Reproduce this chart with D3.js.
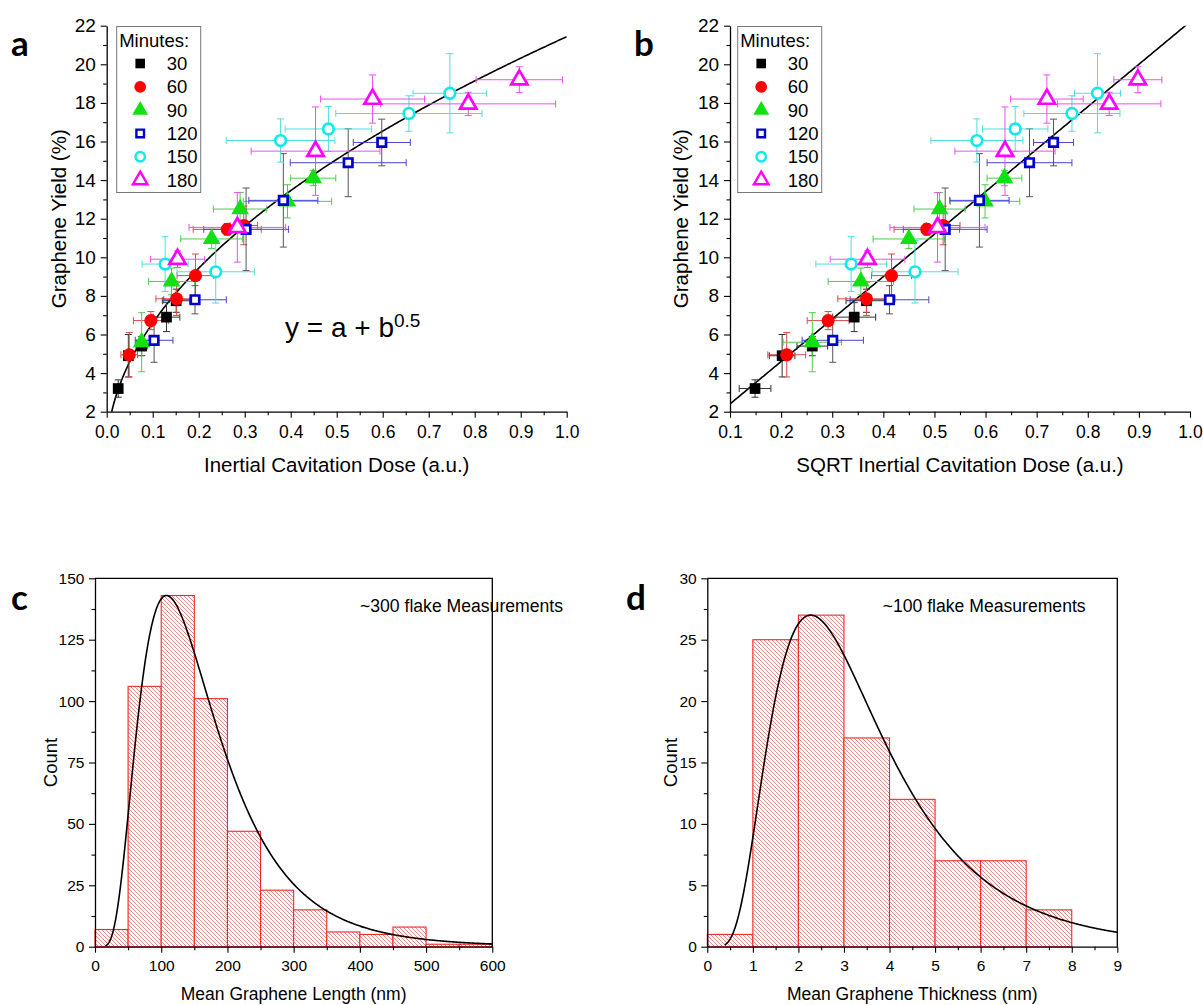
<!DOCTYPE html>
<html>
<head>
<meta charset="utf-8">
<script src="https://cdn.jsdelivr.net/npm/d3@7"></script>
<style>
  body { margin: 0; background: #fff; }
  text { font-family: "Liberation Sans", Arial, sans-serif; fill: #000; }
  .panelLabel { font-family: Lato, "Open Sans", sans-serif; font-weight: bold; }
</style>
</head>
<body>
<script>
'use strict';

// ---- data ----
const minutes = ['30', '60', '90', '120', '150', '180'];

// panel a: inertial cavitation dose, panel b: sqrt of it
const dose30 = [0.025, 0.047, 0.076, 0.130, 0.151];
const dose60 = [0.049, 0.096, 0.152, 0.193, 0.262, 0.298];
const dose90 = [0.076, 0.141, 0.228, 0.290, 0.393, 0.449];
const dose120 = [0.103, 0.192, 0.303, 0.384, 0.525, 0.598];
const dose150 = [0.127, 0.237, 0.378, 0.482, 0.657, 0.746];
const dose180 = [0.154, 0.284, 0.454, 0.578, 0.786, 0.897];

const doseErr30 = [0.006, 0.010, 0.012, 0.029, 0.030];
const doseErr60 = [0.018, 0.038, 0.045, 0.040, 0.074, 0.030];
const doseErr90 = [0.012, 0.050, 0.067, 0.058, 0.096, 0.049];
const doseErr120 = [0.041, 0.068, 0.092, 0.075, 0.126, 0.062];
const doseErr150 = [0.050, 0.084, 0.118, 0.094, 0.159, 0.080];
const doseErr180 = [0.059, 0.105, 0.140, 0.113, 0.190, 0.094];

const sqrtDose30 = [0.149, 0.202, 0.261, 0.343, 0.367];
const sqrtDose60 = [0.211, 0.292, 0.367, 0.416, 0.485, 0.517];
const sqrtDose90 = [0.261, 0.356, 0.450, 0.510, 0.599, 0.637];
const sqrtDose120 = [0.301, 0.412, 0.521, 0.588, 0.686, 0.733];
const sqrtDose150 = [0.337, 0.462, 0.583, 0.658, 0.769, 0.819];
const sqrtDose180 = [0.369, 0.506, 0.638, 0.720, 0.842, 0.898];

const sqrtErr30 = [0.031, 0.025, 0.030, 0.042, 0.040];
const sqrtErr60 = [0.037, 0.041, 0.056, 0.039, 0.064, 0.033];
const sqrtErr90 = [0.057, 0.064, 0.070, 0.050, 0.068, 0.034];
const sqrtErr120 = [0.060, 0.077, 0.082, 0.058, 0.083, 0.039];
const sqrtErr150 = [0.069, 0.084, 0.090, 0.064, 0.094, 0.045];
const sqrtErr180 = [0.073, 0.093, 0.098, 0.071, 0.101, 0.047];

const yield30 = [3.2, 4.9, 5.4, 6.9, 7.75];
const yield60 = [4.95, 6.72, 7.85, 9.05, 11.45, 11.65];
const yield90 = [5.6, 8.75, 10.95, 12.5, 12.9, 14.1];
const yield120 = [5.7, 7.8, 11.45, 12.95, 14.9, 15.95];
const yield150 = [9.65, 9.25, 16.05, 16.65, 17.45, 18.5];
const yield180 = [9.9, 11.55, 15.5, 18.2, 17.95, 19.2];

const yieldErr30 = [0.45, 1.1, 0.5, 0.75, 0.6];
const yieldErr60 = [1.15, 0.47, 0.86, 1.12, 0.3, 1.0];
const yieldErr90 = [1.53, 0.69, 0.5, 0.86, 0.86, 0.39];
const yieldErr120 = [1.14, 0.73, 2.14, 2.42, 1.76, 1.21];
const yieldErr150 = [1.42, 1.62, 1.12, 1.17, 0.92, 2.05];
const yieldErr180 = [0.43, 1.8, 2.29, 1.25, 0.6, 0.67];

// fits: y = a + b*sqrt(x) (panel a), y = a + b*x (panel b)
const fitA = [-0.27, 21.7];
const fitB = [0.2, 22.0];

// panel c: length histogram (bin width 50 nm)
const lengthBins = [0, 50, 100, 150, 200, 250, 300, 350, 400, 450, 500, 550];
const lengthCounts = [7, 106, 143, 101, 47, 23, 15, 6, 5, 8, 1, 1];
// panel d: thickness histogram (bin width 1 nm)
const thickBins = [0, 1, 2, 3, 4, 5, 6, 7];
const thickCounts = [1, 25, 27, 17, 12, 7, 7, 3];
// lognormal fits: [mode, peak height, sigma]
const lengthFit = [108, 143, 0.55];
const thickFit = [2.27, 27, 0.55];

// ---- styling ----
const seriesStyle = [
  {shape: d3.symbolSquare, size: 115, fill: '#000', stroke: 'none', err: '#333', errY: '#333'},
  {shape: d3.symbolCircle, size: 135, fill: '#ff0000', stroke: 'none', err: '#d84a4a', errY: '#d84a4a'},
  {shape: d3.symbolTriangle, size: 135, fill: '#11e011', stroke: 'none', err: '#4ccc4c', errY: '#4ccc4c'},
  {shape: d3.symbolSquare, size: 72, fill: '#fff', stroke: '#0000cc', err: '#4646d0', errY: '#555'},
  {shape: d3.symbolCircle, size: 88, fill: '#fff', stroke: '#11eaea', err: '#4fdede', errY: '#4fdede'},
  {shape: d3.symbolTriangle, size: 115, fill: '#fff', stroke: '#ff00ff', err: '#ec50ec', errY: '#ec50ec'}
];

const svg = d3.select('body').append('svg')
  .attr('width', 1203)
  .attr('height', 1005);

function sqrtFitCurve(x) { return fitA[0] + fitA[1] * Math.sqrt(x); }
function lineFitCurve(x) { return fitB[0] + fitB[1] * x; }
function logNormal(fit) {
  const mode = fit[0], peak = fit[1], s = fit[2];
  const mu = Math.log(mode) + s * s;
  const f = x => Math.exp(-Math.pow(Math.log(x) - mu, 2) / (2 * s * s)) / x;
  const norm = peak / f(mode);
  return x => norm * f(x);
}

function drawAxes(g, x, y, opts) {
  const xAxis = g.append('g').attr('transform', `translate(0,${y.range()[0]})`)
    .call(d3.axisBottom(x).tickValues(opts.xTicks).tickSize(6).tickSizeOuter(0)
      .tickFormat(opts.xFormat));
  g.append('g').attr('transform', `translate(0,${y.range()[0]})`)
    .call(d3.axisBottom(x).tickValues(opts.xMinor).tickSize(3.5).tickFormat(''))
    .select('.domain').remove();
  const yAxis = g.append('g').attr('transform', `translate(${x.range()[0]},0)`)
    .call(d3.axisLeft(y).tickValues(opts.yTicks).tickSize(6).tickSizeOuter(0)
      .tickFormat(opts.yFormat));
  g.append('g').attr('transform', `translate(${x.range()[0]},0)`)
    .call(d3.axisLeft(y).tickValues(opts.yMinor).tickSize(3.5).tickFormat(''))
    .select('.domain').remove();
  g.selectAll('.domain').attr('stroke', '#000').attr('stroke-width', 1.3);
  g.selectAll('.tick line').attr('stroke', '#000').attr('stroke-width', 1.1);
  xAxis.attr('font-size', null);
  yAxis.attr('font-size', null);
  xAxis.selectAll('text').style('font-size', opts.xTickFont + 'px').attr('dy', '1.0em');
  yAxis.selectAll('text').style('font-size', opts.yTickFont + 'px').attr('dx', '-0.1em');
  if (opts.box) {
    g.append('path')
      .attr('d', `M${x.range()[0]},${y.range()[1]}H${x.range()[1]}V${y.range()[0]}`)
      .attr('fill', 'none').attr('stroke', '#000').attr('stroke-width', 1.3);
  }
  g.append('text')
    .attr('x', d3.mean(x.range())).attr('y', opts.xTitleY)
    .attr('text-anchor', 'middle').attr('font-size', opts.xTitleFont)
    .text(opts.xTitle);
  g.append('text')
    .attr('transform', `translate(${opts.yTitleX},${d3.mean(y.range())}) rotate(-90)`)
    .attr('text-anchor', 'middle').attr('font-size', opts.yTitleFont)
    .text(opts.yTitle);
}

function scatterPanel(opts) {
  const g = svg.append('g');
  const x = d3.scaleLinear().domain(opts.xDomain).range(opts.xRange);
  const y = d3.scaleLinear().domain([2, 22]).range([411.7, 25.7]);

  drawAxes(g, x, y, {
    xTicks: d3.range(opts.xDomain[0], 1.001, 0.1),
    xMinor: d3.range(opts.xDomain[0] + 0.05, 1.0, 0.1),
    yTicks: d3.range(2, 23, 2),
    yMinor: d3.range(3, 22, 2),
    xFormat: d3.format('.1f'),
    yFormat: d3.format('d'),
    xTickFont: 17.5, yTickFont: 19,
    xTitle: opts.xTitle, xTitleY: 472, xTitleFont: 20.5,
    yTitle: 'Graphene Yield (%)', yTitleX: opts.yTitleX, yTitleFont: 20.5
  });

  const clipId = 'clip' + opts.label;
  g.append('clipPath').attr('id', clipId).append('rect')
    .attr('x', opts.xRange[0]).attr('y', 25.7)
    .attr('width', opts.xRange[1] - opts.xRange[0]).attr('height', 386);

  // fit curve
  const fitPts = d3.range(0, 401).map(i => {
    const xv = opts.fitStart + (1 - opts.fitStart) * i / 400;
    return [xv, opts.fit(xv)];
  });
  g.append('path')
    .datum(fitPts)
    .attr('clip-path', `url(#${clipId})`)
    .attr('fill', 'none').attr('stroke', '#000').attr('stroke-width', 1.6)
    .attr('d', d3.line().x(d => x(d[0])).y(d => y(d[1])));

  const cap = 3.5;
  // error bars first
  opts.series.forEach((s, si) => {
    const st = seriesStyle[si];
    const eg = g.append('g').attr('fill', 'none').attr('stroke-width', 1);
    s.xs.forEach((xv, i) => {
      const cx = x(xv), cy = y(s.ys[i]);
      const x0 = x(xv - s.xe[i]), x1 = x(xv + s.xe[i]);
      const y0 = y(s.ys[i] - s.ye[i]), y1 = y(s.ys[i] + s.ye[i]);
      eg.append('path').attr('stroke', st.err)
        .attr('d', `M${x0},${cy}H${x1}M${x0},${cy - cap}V${cy + cap}M${x1},${cy - cap}V${cy + cap}`);
      eg.append('path').attr('stroke', st.errY)
        .attr('d', `M${cx},${y0}V${y1}M${cx - cap},${y0}H${cx + cap}M${cx - cap},${y1}H${cx + cap}`);
    });
  });
  // markers
  opts.series.forEach((s, si) => {
    const st = seriesStyle[si];
    g.append('g').selectAll('path')
      .data(s.xs.map((xv, i) => [xv, s.ys[i]]))
      .join('path')
      .attr('transform', d => `translate(${x(d[0])},${y(d[1])})`)
      .attr('d', d3.symbol().type(st.shape).size(st.size))
      .attr('fill', st.fill)
      .attr('stroke', st.stroke)
      .attr('stroke-width', st.stroke === 'none' ? 0 : 2.7);
  });

  // legend
  const lx = opts.legendX, ly = 26.5;
  const leg = g.append('g');
  leg.append('rect').attr('x', lx).attr('y', ly).attr('width', 84).attr('height', 166)
    .attr('fill', '#fff').attr('stroke', '#777').attr('stroke-width', 1);
  leg.append('text').attr('x', lx + 2.5).attr('y', ly + 20.5).attr('font-size', 18.5)
    .text('Minutes:');
  minutes.forEach((m, i) => {
    const st = seriesStyle[i];
    const cy = ly + 37 + i * 23.3;
    leg.append('path')
      .attr('transform', `translate(${lx + 23.5},${cy})`)
      .attr('d', d3.symbol().type(st.shape).size(st.size * 0.8))
      .attr('fill', st.fill).attr('stroke', st.stroke)
      .attr('stroke-width', st.stroke === 'none' ? 0 : 2.4);
    leg.append('text').attr('x', lx + 50).attr('y', cy + 6.5).attr('font-size', 18.5)
      .text(m);
  });

  svg.append('text').attr('class', 'panelLabel')
    .attr('x', opts.labelX).attr('y', 56).attr('font-size', 35)
    .text(opts.label);
  return g;
}

const yieldSeries = [yield30, yield60, yield90, yield120, yield150, yield180];
const yieldErrs = [yieldErr30, yieldErr60, yieldErr90, yieldErr120, yieldErr150, yieldErr180];
const doseSeries = [dose30, dose60, dose90, dose120, dose150, dose180];
const doseErrs = [doseErr30, doseErr60, doseErr90, doseErr120, doseErr150, doseErr180];
const sqrtSeries = [sqrtDose30, sqrtDose60, sqrtDose90, sqrtDose120, sqrtDose150, sqrtDose180];
const sqrtErrs = [sqrtErr30, sqrtErr60, sqrtErr90, sqrtErr120, sqrtErr150, sqrtErr180];

const gA = scatterPanel({
  label: 'a', labelX: 11, legendX: 116.7, yTitleX: 66,
  xDomain: [0, 1], xRange: [106.7, 566.7],
  xTitle: 'Inertial Cavitation Dose (a.u.)',
  fit: sqrtFitCurve, fitStart: 0.0105,
  series: doseSeries.map((xs, i) => ({xs: xs, xe: doseErrs[i], ys: yieldSeries[i], ye: yieldErrs[i]}))
});
const eq = gA.append('text').attr('x', 285).attr('y', 336.7).attr('font-size', 28);
eq.append('tspan').text('y = a + b');
eq.append('tspan').attr('dy', -10).attr('font-size', 19).text('0.5');

scatterPanel({
  label: 'b', labelX: 634, legendX: 737.7, yTitleX: 688,
  xDomain: [0.1, 1], xRange: [730, 1190],
  xTitle: 'SQRT Inertial Cavitation Dose (a.u.)',
  fit: lineFitCurve, fitStart: 0.1,
  series: sqrtSeries.map((xs, i) => ({xs: xs, xe: sqrtErrs[i], ys: yieldSeries[i], ye: yieldErrs[i]}))
});

// hatch pattern for histograms
const defs = svg.append('defs');
const hatch = defs.append('pattern').attr('id', 'hatch')
  .attr('patternUnits', 'userSpaceOnUse').attr('width', 4).attr('height', 4);
hatch.append('rect').attr('width', 4).attr('height', 4).attr('fill', '#fff');
hatch.append('path')
  .attr('d', 'M-1,-1L5,5M-1,3L1,5M3,-1L5,1')
  .attr('stroke', '#e66a6a').attr('stroke-width', 0.8);

function histPanel(opts) {
  const g = svg.append('g');
  const x = d3.scaleLinear().domain(opts.xDomain).range(opts.xRange);
  const y = d3.scaleLinear().domain(opts.yDomain).range([946.7, 578.3]);

  g.append('g').selectAll('rect')
    .data(opts.bins.map((b, i) => [b, opts.counts[i]]))
    .join('rect')
    .attr('x', d => x(d[0]))
    .attr('width', d => x(d[0] + opts.binWidth) - x(d[0]))
    .attr('y', d => y(d[1]))
    .attr('height', d => y(0) - y(d[1]))
    .attr('fill', 'url(#hatch)')
    .attr('stroke', '#ee2a2a').attr('stroke-width', 1.1);

  const fn = logNormal(opts.fit);
  const pts = d3.range(0, 501).map(i => {
    const xv = opts.fitStart + (opts.xDomain[1] - opts.fitStart) * i / 500;
    return [xv, fn(xv)];
  });
  g.append('path').datum(pts)
    .attr('fill', 'none').attr('stroke', '#000').attr('stroke-width', 1.6)
    .attr('d', d3.line().x(d => x(d[0])).y(d => y(d[1])));

  drawAxes(g, x, y, {
    xTicks: opts.xTicks, xMinor: opts.xMinor,
    yTicks: opts.yTicks, yMinor: opts.yMinor,
    xFormat: d3.format('d'), yFormat: d3.format('d'),
    xTickFont: 15.5, yTickFont: 15.5, box: true,
    xTitle: opts.xTitle, xTitleY: 1000, xTitleFont: 17.5,
    yTitle: 'Count', yTitleX: opts.yTitleX, yTitleFont: 18.5
  });

  g.append('text').attr('x', opts.noteX).attr('y', 612).attr('font-size', 17.6)
    .text(opts.note);
  svg.append('text').attr('class', 'panelLabel')
    .attr('x', opts.labelX).attr('y', 610).attr('font-size', 35)
    .text(opts.label);
}

histPanel({
  label: 'c', labelX: 11,
  xDomain: [0, 600], xRange: [95, 492.3], yDomain: [0, 150],
  bins: lengthBins, counts: lengthCounts, binWidth: 50,
  fit: lengthFit, fitStart: 16,
  xTicks: d3.range(0, 601, 100), xMinor: d3.range(50, 600, 100),
  yTicks: d3.range(0, 151, 25), yMinor: d3.range(12.5, 150, 25),
  xTitle: 'Mean Graphene Length (nm)', yTitleX: 57,
  note: '~300 flake Measurements', noteX: 360
});

histPanel({
  label: 'd', labelX: 626,
  xDomain: [0, 9], xRange: [707.3, 1117.3], yDomain: [0, 30],
  bins: thickBins, counts: thickCounts, binWidth: 1,
  fit: thickFit, fitStart: 0.38,
  xTicks: d3.range(0, 10, 1), xMinor: d3.range(0.5, 9, 1),
  yTicks: d3.range(0, 31, 5), yMinor: d3.range(2.5, 30, 5),
  xTitle: 'Mean Graphene Thickness (nm)', yTitleX: 677,
  note: '~100 flake Measurements', noteX: 882.7
});
</script>
</body>
</html>
